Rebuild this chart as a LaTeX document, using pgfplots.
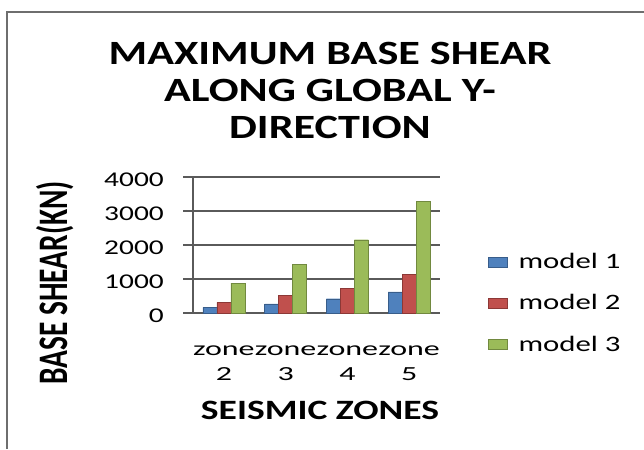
\documentclass[border=0pt]{standalone}
\usepackage{fontspec}
\setmainfont{Carlito}
\newfontfamily\tickfont{Carlito}[FakeStretch=1.4]
\newfontfamily\xtickfont{Carlito}[FakeStretch=1.6]
\newfontfamily\titlefont{Carlito}[FakeStretch=1.3]
\newfontfamily\xlabfont{Carlito}[FakeStretch=1.34]
\newfontfamily\ylabfont{Carlito}[FakeStretch=0.7]
\usepackage{pgfplots}
\pgfplotsset{compat=1.18}
\definecolor{mblue}{HTML}{4F81BD}
\definecolor{mbluedk}{HTML}{385D8A}
\definecolor{mred}{HTML}{C0504D}
\definecolor{mreddk}{HTML}{8C3836}
\definecolor{mgreen}{HTML}{9BBB59}
\definecolor{mgreendk}{HTML}{71893F}
\definecolor{gridc}{HTML}{5A5A5A}
\definecolor{framec}{HTML}{6E6E6E}
\begin{document}
\begin{tikzpicture}[x=1pt,y=1pt]
\useasboundingbox (0,0) rectangle (644,449);
\draw[framec, line width=1.2pt] (7,0) -- (7,437) -- (644,437);
\node[font=\titlefont\bfseries\fontsize{34}{37}\selectfont, align=center, anchor=north, inner sep=0pt] at (330,407)
  {MAXIMUM BASE SHEAR\\ALONG GLOBAL Y-\\DIRECTION};
\node[font=\xlabfont\bfseries\fontsize{28}{28}\selectfont, anchor=base, inner sep=0pt] at (320,29) {SEISMIC ZONES};
\node[font=\ylabfont\bfseries\fontsize{42}{42}\selectfont, rotate=90, inner sep=0pt] at (55,166) {BASE SHEAR(KN)};
\begin{axis}[
  at={(193pt,136pt)}, anchor=south west,
  scale only axis, width=247pt, height=136pt,
  xmin=-0.5, xmax=3.5, ymin=0, ymax=4000,
  ybar=0pt, bar width=14pt,
  axis y line=left, axis x line=bottom,
  axis line style={gridc, line width=1.5pt, -},
  ytick={0,1000,2000,3000,4000},
  xtick=data,
  xticklabels={{zone\\2},{zone\\3},{zone\\4},{zone\\5}},
  xtick style={draw=none},
  ytick style={gridc, line width=1.5pt},
  tick align=outside, major tick length=10pt,
  ymajorgrids, grid style={gridc, line width=1.5pt},
  /pgf/number format/assume math mode=true,
  /pgf/number format/1000 sep={},
  yticklabel style={font=\tickfont\fontsize{21}{21}\selectfont, inner sep=0pt, anchor=east, xshift=-19pt, yshift=-3pt},
  xticklabel style={font=\xtickfont\fontsize{20}{25}\selectfont, inner sep=0pt, align=center, anchor=north, yshift=-23pt},
  legend style={draw=none, fill=none, at={(1.194,0.0735)}, anchor=west, inner sep=0pt,
    font=\tickfont\fontsize{22}{22}\selectfont, row sep=24.5pt,
    nodes={inner sep=0pt}},
  legend cell align=left,
  legend image code/.code={\draw[#1] (0pt,-5pt) rectangle (19pt,5pt); \path (30pt,0pt);},
  clip=false,
]
\addplot[fill=mblue, draw=mbluedk] coordinates {(0,165) (1,265) (2,420) (3,620)};
\addplot[fill=mred, draw=mreddk] coordinates {(0,315) (1,520) (2,735) (3,1140)};
\addplot[fill=mgreen, draw=mgreendk] coordinates {(0,875) (1,1440) (2,2155) (3,3285)};
\legend{model 1, model 2, model 3}
\end{axis}
\end{tikzpicture}
\end{document}
